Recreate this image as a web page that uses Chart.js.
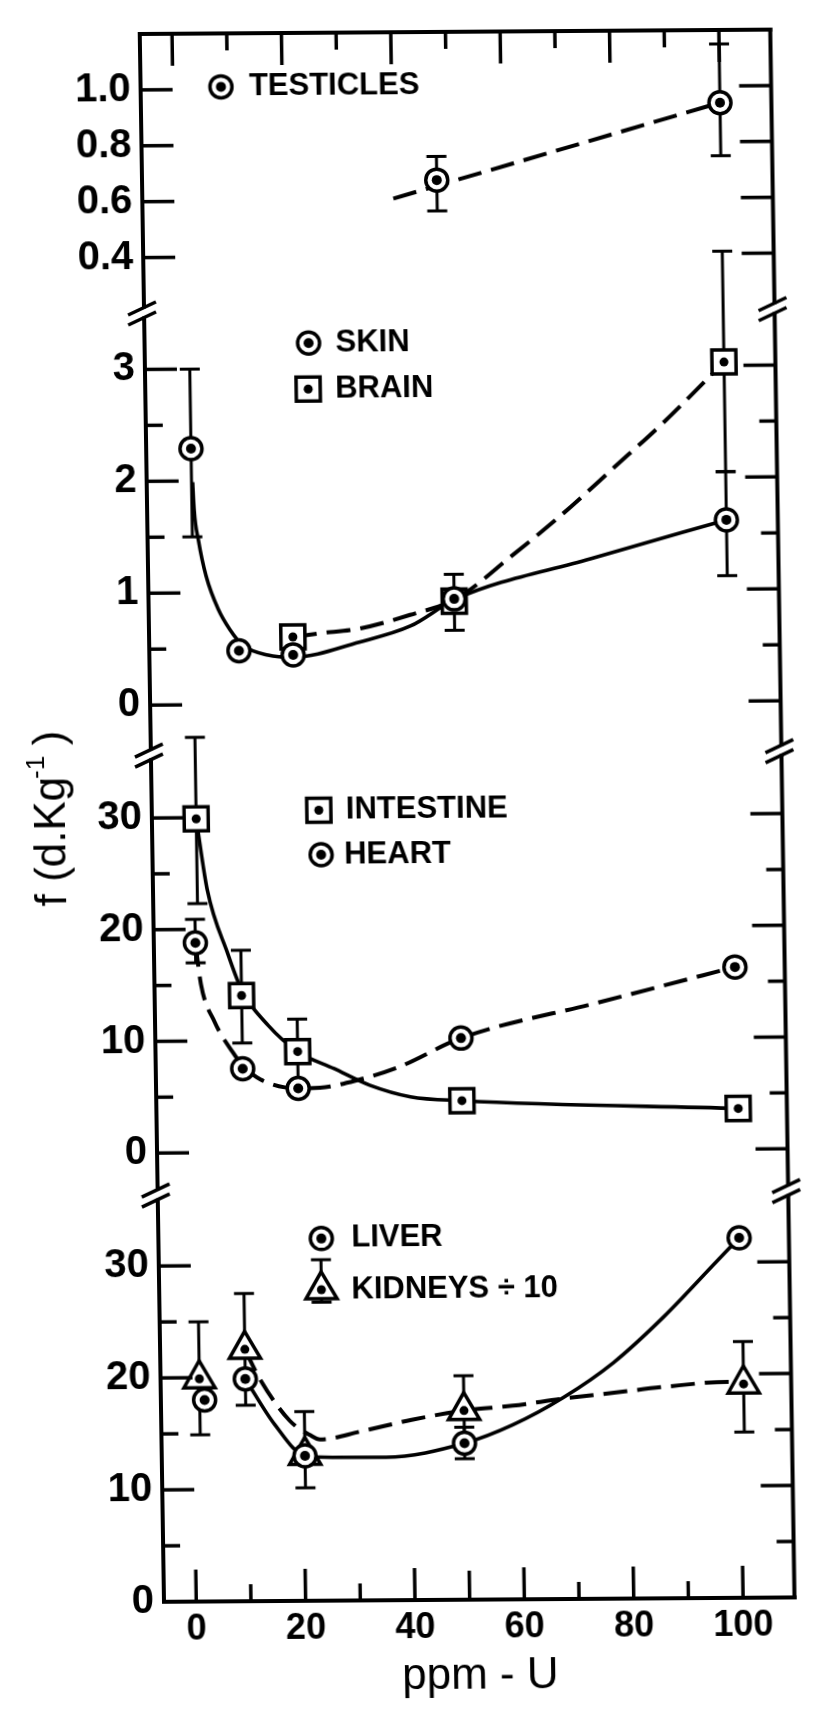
<!DOCTYPE html>
<html>
<head>
<meta charset="utf-8">
<script src="https://cdn.jsdelivr.net/npm/chart.js@4.4.1/dist/chart.umd.min.js"></script>
<style>
html, body { margin: 0; padding: 0; background: #fff; }
#wrap { width: 816px; height: 1710px; overflow: hidden; position: relative; background: #fff; }
#c { display: block; background: #fff; transform-origin: 164px 1602px; transform: matrix(1, -0.00695, 0.01546, 1, 0, 0); }
</style>
</head>
<body>
<div id="wrap"><canvas id="c" width="816" height="1710"></canvas></div>
<script>
// ---------------- tick labels ----------------
const ppmTicks = [0, 20, 40, 60, 80, 100];
const ppmMinorTicks = [10, 30, 50, 70, 90];
const testiclesTicks = [0.4, 0.6, 0.8, 1.0];
const testiclesMinorTicks = [];
const skinBrainTicks = [0, 1, 2, 3];
const skinBrainMinorTicks = [0.5, 1.5, 2.5];
const intestineHeartTicks = [0, 10, 20, 30];
const intestineHeartMinorTicks = [5, 15, 25];
const liverKidneyTicks = [0, 10, 20, 30];
const liverKidneyMinorTicks = [5, 15, 25];

// ---------------- series ----------------
const testiclesPpm = [48, 100];
const testicles = [0.67, 0.94];
const testiclesLow = [0.56, 0.75];
const testiclesHigh = [0.755, 1.15];
const testiclesCurvePpm = [40, 100];
const testiclesCurve = [0.605, 0.94];

const skinPpm = [2.3, 10.5, 20.4, 50, 100];
const skin = [2.29, 0.48, 0.44, 0.93, 1.62];
const skinLow = [1.5, null, null, null, 1.12];
const skinHigh = [3.0, null, null, null, 2.05];
const skinCurvePpm = [2.5, 2.7, 3.4, 4.7, 6.85, 8.9, 11.2, 15.8, 20.4, 32.5, 41.9, 50.3, 75, 100];
const skinCurve = [1.99, 1.74, 1.47, 1.15, 0.85, 0.67, 0.53, 0.44, 0.42, 0.55, 0.69, 0.93, 1.28, 1.62];

const brainPpm = [20.4, 50, 100];
const brain = [0.6, 0.91, 3.03];
const brainLow = [null, 0.65, 2.05];
const brainHigh = [null, 1.15, 4.02];
const brainCurvePpm = [20.4, 25.1, 32.5, 41.9, 50.3, 60.6, 70, 79.5, 88.9, 100];
const brainCurve = [0.6, 0.63, 0.67, 0.79, 0.93, 1.31, 1.68, 2.09, 2.5, 3.03];

const intestinePpm = [2.2, 10, 20.1, 50, 100.5];
const intestine = [29.9, 14.05, 9.0, 4.5, 3.63];
const intestineLow = [22.3, 9.8, 6.2, null, null];
const intestineHigh = [37.2, 18.1, 11.9, null, null];
const intestineCurvePpm = [2.2, 4.0, 7.6, 10, 14.8, 20.1, 26.7, 33.2, 40.6, 50, 100.5];
const intestineCurve = [29.9, 23.6, 17.8, 14.6, 11.35, 9.0, 7.45, 5.94, 4.88, 4.5, 3.63];

const heartPpm = [1.7, 10, 20.1, 50, 100.3];
const heart = [18.8, 7.5, 5.7, 10.1, 16.3];
const heartLow = [17.0, null, null, null, null];
const heartHigh = [20.9, null, null, null, null];
const heartCurvePpm = [1.7, 2.6, 5.0, 8.2, 10, 13.2, 20.1, 24.1, 30.9, 38.3, 50, 75.2, 100.3];
const heartCurve = [18.8, 15.1, 11.7, 9.0, 7.8, 6.53, 5.7, 5.75, 6.4, 7.5, 10.1, 13.2, 16.3];

const liverPpm = [2.1, 9.6, 20.3, 49.5, 100.3];
const liver = [18.0, 19.86, 12.96, 13.98, 32.15];
const liverLow = [null, null, null, 12.6, null];
const liverHigh = [null, null, null, 15.4, null];
const liverCurvePpm = [9.6, 14.8, 20.3, 25.9, 35.1, 49.5, 58.4, 67.7, 77, 86.4, 95.8, 100.3];
const liverCurve = [19.86, 15.8, 12.96, 12.8, 12.77, 13.98, 15.6, 18.0, 21.1, 25.2, 29.9, 32.15];

const kidneyPpm = [1.2, 9.6, 20.3, 49.5, 100.7];
const kidney = [19.9, 22.5, 13.0, 16.9, 19.1];
const kidneyLow = [14.9, 17.5, 10.1, 13.8, 14.8];
const kidneyHigh = [25.0, 27.5, 16.9, 20.0, 22.9];
const kidneyCurvePpm = [9.6, 12.2, 17.6, 21.3, 23.1, 30.6, 39.9, 49.5, 58.4, 67.7, 77, 86.4, 97.8, 100.7];
const kidneyCurve = [22.5, 19.9, 16.1, 14.8, 14.4, 15.1, 16.1, 16.9, 17.3, 17.9, 18.4, 18.9, 19.3, 19.1];

// ---------------- styling / layout ----------------
const FONT = "'Liberation Sans', Arial, Helvetica, sans-serif";
const MARK = {
  circle:   { radius: 11, dot: 5 },
  rect:     { radius: 17, dot: 4.5 },
  triangle: { radius: 18, dot: 4.5 }
};
const DASH = [24, 10];

function pts(xs, ys) { return xs.map((x, i) => ({ x: x, y: ys[i] })); }

function markerSet(label, xs, ys, lo, hi, axis, style, order) {
  return {
    label: label, data: pts(xs, ys), yAxisID: axis, xAxisID: 'x',
    showLine: false, order: order, clip: false,
    pointStyle: style, pointRadius: MARK[style].radius, pointHoverRadius: MARK[style].radius,
    pointBorderWidth: 3.5, pointBackgroundColor: '#fff', pointBorderColor: '#000',
    errLow: lo, errHigh: hi, centerDot: MARK[style].dot
  };
}
function curveSet(label, xs, ys, axis, dashed, smooth) {
  return {
    label: label, data: pts(xs, ys), yAxisID: axis, xAxisID: 'x',
    showLine: true, order: 5, pointRadius: 0, pointHoverRadius: 0,
    borderColor: '#000', borderWidth: dashed ? 4 : 3.6, borderDash: dashed ? DASH : [],
    cubicInterpolationMode: smooth ? 'monotone' : 'default', tension: 0, fill: false
  };
}

function yScale(min, max, stackWeight, weight, tickValues, fmt) {
  return {
    type: 'linear', axis: 'y', position: 'left', stack: 'panels',
    stackWeight: stackWeight, weight: weight, min: min, max: max,
    grid: { display: false, drawTicks: false }, border: { display: false },
    ticks: { autoSkip: false, padding: 10, color: '#000',
             font: { family: FONT, size: 40, weight: 'bold' }, callback: fmt },
    afterBuildTicks: s => { s.ticks = tickValues.map(v => ({ value: v })); },
    afterFit: s => { s.width = 65; }
  };
}

const legendEntries = [
  { scale: 'yTest',  ppm: 8.8,   value: 1.009, style: 'circle',   text: 'TESTICLES', dx: 28 },
  { scale: 'ySkin',  ppm: 24.1,  value: 3.226, style: 'circle',   text: 'SKIN', dx: 27 },
  { scale: 'ySkin',  ppm: 23.9,  value: 2.814, style: 'rect',     text: 'BRAIN', dx: 27 },
  { scale: 'yHeart', ppm: 24.65, value: 30.59, style: 'rect',     text: 'INTESTINE', dx: 27 },
  { scale: 'yHeart', ppm: 24.95, value: 26.6,  style: 'circle',   text: 'HEART', dx: 23 },
  { scale: 'yLiver', ppm: 23.9,  value: 32.35, style: 'circle',   text: 'LIVER', dx: 30 },
  { scale: 'yLiver', ppm: 23.77, value: 27.78, style: 'triangle', text: 'KIDNEYS \u00F7 10', dx: 30, err: [26.67, 30.45] }
];

function drawMarker(ctx, style, x, y) {
  const r = MARK[style].radius;
  ctx.save();
  ctx.lineWidth = 3.5; ctx.strokeStyle = '#000'; ctx.fillStyle = '#fff';
  ctx.beginPath();
  if (style === 'circle') ctx.arc(x, y, r, 0, Math.PI * 2);
  else if (style === 'rect') { const h = r * Math.SQRT1_2; ctx.rect(x - h, y - h, 2 * h, 2 * h); }
  else {
    ctx.moveTo(x, y - r);
    ctx.lineTo(x + r * Math.sin(2 * Math.PI / 3), y - r * Math.cos(2 * Math.PI / 3));
    ctx.lineTo(x + r * Math.sin(4 * Math.PI / 3), y - r * Math.cos(4 * Math.PI / 3));
    ctx.closePath();
  }
  ctx.fill(); ctx.stroke();
  ctx.fillStyle = '#000'; ctx.beginPath(); ctx.arc(x, y, MARK[style].dot, 0, Math.PI * 2); ctx.fill();
  ctx.restore();
}

function errorBar(ctx, x, y1, y2) {
  ctx.beginPath();
  ctx.moveTo(x, y1); ctx.lineTo(x, y2);
  ctx.moveTo(x - 10, y1); ctx.lineTo(x + 10, y1);
  ctx.moveTo(x - 10, y2); ctx.lineTo(x + 10, y2);
  ctx.stroke();
}

const markerPlugin = {
  id: 'markerExtras',
  beforeDatasetDraw(chart, args) {
    const ds = chart.data.datasets[args.index];
    if (!ds.errLow) return;
    const ctx = chart.ctx;
    const xs = chart.scales[args.meta.xAxisID], ys = chart.scales[args.meta.yAxisID];
    ctx.save(); ctx.strokeStyle = '#000'; ctx.lineWidth = 3; ctx.lineCap = 'butt';
    ds.data.forEach((p, i) => {
      const lo = ds.errLow[i], hi = ds.errHigh[i];
      if (lo == null || hi == null) return;
      errorBar(ctx, xs.getPixelForValue(p.x), ys.getPixelForValue(lo), ys.getPixelForValue(hi));
    });
    ctx.restore();
  },
  afterDatasetDraw(chart, args) {
    const ds = chart.data.datasets[args.index];
    if (!ds.centerDot) return;
    const ctx = chart.ctx;
    ctx.save(); ctx.fillStyle = '#000';
    args.meta.data.forEach(el => { ctx.beginPath(); ctx.arc(el.x, el.y, ds.centerDot, 0, Math.PI * 2); ctx.fill(); });
    ctx.restore();
  }
};

const framePlugin = {
  id: 'frame',
  afterDraw(chart) {
    const ctx = chart.ctx, a = chart.chartArea;
    const L = a.left, R = a.right, T = a.top, B = a.bottom;
    const sc = chart.scales;
    const line = (x1, y1, x2, y2) => { ctx.beginPath(); ctx.moveTo(x1, y1); ctx.lineTo(x2, y2); ctx.stroke(); };
    const bounds = ['ySkin', 'yHeart', 'yLiver'].map(id => sc[id].top);
    ctx.save();
    ctx.strokeStyle = '#000';
    // frame
    ctx.lineWidth = 4; ctx.lineCap = 'square';
    line(L, T, R, T); line(L, B, R, B);
    const segs = [T];
    bounds.forEach(b => { segs.push(b - 7, b + 5); });
    segs.push(B);
    for (let i = 0; i < segs.length; i += 2) { line(L, segs[i], L, segs[i + 1]); line(R, segs[i], R, segs[i + 1]); }
    // axis breaks
    ctx.lineWidth = 3.5; ctx.lineCap = 'butt';
    bounds.forEach(b => [L, R].forEach(x0 => [-5, 5].forEach(dy => {
      line(x0 - 16, b + dy + 6.5, x0 + 12, b + dy - 6.5);
    })));
    // inward ticks on y scales
    const ySets = [
      ['yTest', testiclesTicks, testiclesMinorTicks],
      ['ySkin', skinBrainTicks, skinBrainMinorTicks],
      ['yHeart', intestineHeartTicks, intestineHeartMinorTicks],
      ['yLiver', liverKidneyTicks, liverKidneyMinorTicks]
    ];
    ySets.forEach(([id, major, minor]) => {
      const s = sc[id];
      const draw = (v, len) => {
        const y = s.getPixelForValue(v);
        if (y < T + 3 || y > B - 3) return;
        line(L, y, L + len, y); line(R - len, y, R, y);
      };
      major.forEach(v => draw(v, 32));
      minor.forEach(v => draw(v, 17));
    });
    // inward ticks on x (top & bottom)
    const xs = sc.x;
    ppmTicks.forEach(v => { const x = xs.getPixelForValue(v); line(x, T, x, T + 32); line(x, B - 32, x, B); });
    ppmMinorTicks.forEach(v => { const x = xs.getPixelForValue(v); line(x, T, x, T + 17); line(x, B - (v === 50 ? 29 : 17), x, B); });
    ctx.restore();

    // legends
    ctx.save();
    ctx.strokeStyle = '#000'; ctx.lineWidth = 3;
    legendEntries.forEach(e => {
      const x = xs.getPixelForValue(e.ppm), ys = sc[e.scale], y = ys.getPixelForValue(e.value);
      if (e.err) errorBar(ctx, x, ys.getPixelForValue(e.err[0]), ys.getPixelForValue(e.err[1]));
      drawMarker(ctx, e.style, x, y);
      ctx.fillStyle = '#000'; ctx.font = 'bold 31px ' + FONT;
      ctx.textAlign = 'left'; ctx.textBaseline = 'middle';
      ctx.fillText(e.text, x + e.dx, y);
    });
    ctx.restore();

    // y-axis title
    ctx.save();
    ctx.fillStyle = '#000';
    ctx.translate(77, (T + B) / 2);
    ctx.rotate(-Math.PI / 2);
    ctx.textBaseline = 'alphabetic'; ctx.textAlign = 'left';
    const big = '44px ' + FONT, small = '26px ' + FONT;
    ctx.font = big; const w1 = ctx.measureText('f (d.Kg').width; const w3 = ctx.measureText(' )').width;
    ctx.font = small; const w2 = ctx.measureText('-1').width;
    let px = -(w1 + w2 + w3 - 4) / 2;
    ctx.font = big; ctx.fillText('f (d.Kg', px, 0); px += w1 - 2;
    ctx.font = small; ctx.fillText('-1', px, -20); px += w2 - 2;
    ctx.font = big; ctx.fillText(' )', px, 0);
    ctx.restore();
  }
};

const datasets = [
  markerSet('TESTICLES', testiclesPpm, testicles, testiclesLow, testiclesHigh, 'yTest', 'circle', 0),
  curveSet('TESTICLES fit', testiclesCurvePpm, testiclesCurve, 'yTest', true, false),
  markerSet('SKIN', skinPpm, skin, skinLow, skinHigh, 'ySkin', 'circle', 0),
  markerSet('BRAIN', brainPpm, brain, brainLow, brainHigh, 'ySkin', 'rect', 1),
  curveSet('SKIN fit', skinCurvePpm, skinCurve, 'ySkin', false, true),
  curveSet('BRAIN fit', brainCurvePpm, brainCurve, 'ySkin', true, true),
  markerSet('HEART', heartPpm, heart, heartLow, heartHigh, 'yHeart', 'circle', 0),
  markerSet('INTESTINE', intestinePpm, intestine, intestineLow, intestineHigh, 'yHeart', 'rect', 1),
  curveSet('INTESTINE fit', intestineCurvePpm, intestineCurve, 'yHeart', false, true),
  curveSet('HEART fit', heartCurvePpm, heartCurve, 'yHeart', true, true),
  markerSet('LIVER', liverPpm, liver, liverLow, liverHigh, 'yLiver', 'circle', 0),
  markerSet('KIDNEYS', kidneyPpm, kidney, kidneyLow, kidneyHigh, 'yLiver', 'triangle', 1),
  curveSet('LIVER fit', liverCurvePpm, liverCurve, 'yLiver', false, true),
  curveSet('KIDNEYS fit', kidneyCurvePpm, kidneyCurve, 'yLiver', true, true)
];

new Chart(document.getElementById('c'), {
  type: 'scatter',
  data: { datasets: datasets },
  options: {
    responsive: false, maintainAspectRatio: false, animation: false, events: [],
    layout: { padding: { left: 99, right: 5, top: 20, bottom: 0 } },
    plugins: { legend: { display: false }, tooltip: { enabled: false }, colors: { enabled: false } },
    scales: {
      x: {
        type: 'linear', position: 'bottom', min: -5.9, max: 109.4,
        grid: { display: false, drawTicks: false }, border: { display: false },
        ticks: { autoSkip: false, padding: 6, maxRotation: 0, color: '#000',
                 font: { family: FONT, size: 36, weight: 'bold' } },
        afterBuildTicks: s => { s.ticks = ppmTicks.map(v => ({ value: v })); },
        afterFit: s => { s.height = 108; },
        title: { display: true, text: 'ppm - U', color: '#000',
                 font: { family: FONT, size: 44 }, padding: { top: 0, bottom: 5 } }
      },
      yLiver: yScale(0, 36.3, 410, 1, liverKidneyTicks, v => String(v)),
      yHeart: yScale(-3.8, 35.6, 444, 2, intestineHeartTicks, v => String(v)),
      ySkin: yScale(-0.45, 3.5, 446, 3, skinBrainTicks, v => String(v)),
      yTest: yScale(0.2, 1.2, 282, 4, testiclesTicks, v => v.toFixed(1))
    }
  },
  plugins: [markerPlugin, framePlugin]
});
</script>
</body>
</html>
